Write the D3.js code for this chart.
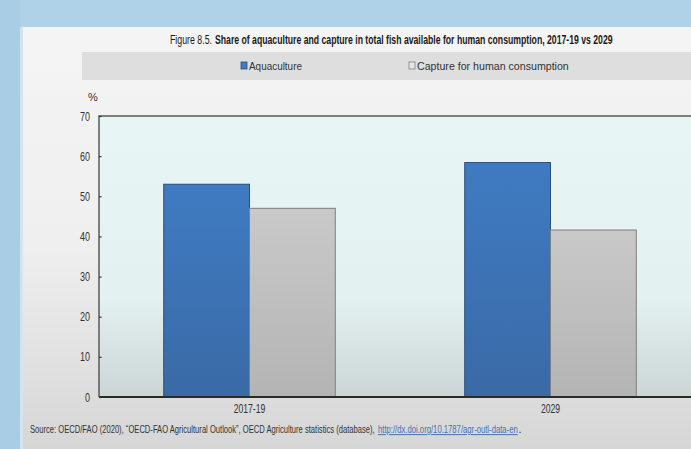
<!DOCTYPE html>
<html>
<head>
<meta charset="utf-8">
<script src="https://cdn.jsdelivr.net/npm/d3@7"></script>
<style>
  html, body { margin: 0; padding: 0; background: #f2f2f2; }
  svg { display: block; }
  text { font-family: "Liberation Sans", Arial, sans-serif; }
</style>
</head>
<body>
<div id="chart"></div>
<script>
// Data
const categories = ["2017-19", "2029"];
const seriesNames = ["Aquaculture", "Capture for human consumption"];
const aquaculture = [53, 58.4];
const capture = [47, 41.6];
const yTicks = [0, 10, 20, 30, 40, 50, 60, 70];

const width = 691, height = 449;
const plot = { left: 99, top: 116, right: 701, bottom: 397 };
const FONT = "'Liberation Sans', Arial, sans-serif";
const SQUEEZE = 0.72;

const svg = d3.select("#chart").append("svg")
    .attr("width", width)
    .attr("height", height);

// text squeezed to a given width (the source uses a narrow face)
function fitText(x, y, size, len, str, bold) {
    const t = svg.append("text")
        .attr("font-size", size)
        .attr("font-weight", bold ? "bold" : null)
        .attr("fill", "#333")
        .text(str);
    const sx = len / t.node().getComputedTextLength();
    t.attr("transform", `translate(${x},${y}) scale(${sx},1)`);
    return t;
}

const defs = svg.append("defs");
function vGrad(id, stops) {
    const g = defs.append("linearGradient").attr("id", id)
        .attr("x1", 0).attr("y1", 0).attr("x2", 0).attr("y2", 1);
    stops.forEach(s => g.append("stop").attr("offset", s[0]).attr("stop-color", s[1]));
}
vGrad("pageBg", [[0, "#f5f5f5"], [0.55, "#efefef"], [1, "#d6d6d6"]]);
vGrad("plotBg", [[0, "#e7f6f5"], [0.65, "#e3f1f0"], [1, "#cbd5d5"]]);
vGrad("blueBar", [[0, "#3f7bc2"], [1, "#3a6aa6"]]);
vGrad("greyBar", [[0, "#c9c9c9"], [1, "#b4b4b4"]]);

// page / frame
svg.append("rect").attr("width", width).attr("height", height).attr("fill", "url(#pageBg)");
svg.append("rect").attr("x", 0).attr("y", 0).attr("width", width).attr("height", 27).attr("fill", "#afd2e8");
svg.append("rect").attr("x", 0).attr("y", 0).attr("width", 20).attr("height", height).attr("fill", "#a9cde5");
svg.append("rect").attr("x", 20).attr("y", 27).attr("width", 3).attr("height", height - 27).attr("fill", "#d3e4ee");

// title
fitText(170, 44, 12.5, 42, "Figure 8.5.").attr("fill", "#1a1a1a");
fitText(215, 44, 12.5, 398,
    "Share of aquaculture and capture in total fish available for human consumption, 2017-19 vs 2029", true)
    .attr("fill", "#1a1a1a");

// legend band
svg.append("rect").attr("x", 82).attr("y", 52).attr("width", width - 82).attr("height", 28).attr("fill", "#dedede");

const colors = ["url(#blueBar)", "url(#greyBar)"];
const strokes = ["#2c4f7c", "#7f7f7f"];
const legendX = [241, 409];
const legendLen = [53, 152];
seriesNames.forEach((name, i) => {
    svg.append("rect")
        .attr("x", legendX[i]).attr("y", 62)
        .attr("width", 6).attr("height", 7)
        .attr("fill", i === 0 ? "#3f7bc2" : "#e6e6e6")
        .attr("stroke", i === 0 ? "#2c4f7c" : "#808080")
        .attr("stroke-width", 0.8);
    fitText(legendX[i] + 8, 70, 11.5, legendLen[i], name);
});

// scales
const x0 = d3.scaleBand()
    .domain(categories)
    .range([plot.left, plot.right])
    .paddingInner(0.43)
    .paddingOuter(0.215);
const x1 = d3.scaleBand()
    .domain(seriesNames)
    .range([0, x0.bandwidth()]);
const y = d3.scaleLinear()
    .domain([0, 70])
    .range([plot.bottom, plot.top]);

// plot background
svg.append("rect")
    .attr("x", plot.left).attr("y", plot.top)
    .attr("width", plot.right - plot.left).attr("height", plot.bottom - plot.top)
    .attr("fill", "url(#plotBg)");

// bars
const values = [aquaculture, capture];
const barG = svg.append("g");
categories.forEach((cat, ci) => {
    seriesNames.forEach((s, si) => {
        const v = values[si][ci];
        barG.append("rect")
            .attr("x", x0(cat) + x1(s))
            .attr("y", y(v))
            .attr("width", x1.bandwidth())
            .attr("height", y(0) - y(v))
            .attr("fill", colors[si])
            .attr("stroke", strokes[si])
            .attr("stroke-width", 1);
    });
});

// plot frame
svg.append("path")
    .attr("d", `M${plot.left},${plot.bottom}V${plot.top}H${plot.right}`)
    .attr("fill", "none")
    .attr("stroke", "#5a5a5a")
    .attr("stroke-width", 1.5);
svg.append("line")
    .attr("x1", plot.left).attr("x2", plot.right)
    .attr("y1", plot.bottom).attr("y2", plot.bottom)
    .attr("stroke", "#2a2a2a").attr("stroke-width", 2);

// y axis
const yAxis = svg.append("g")
    .attr("transform", `translate(${plot.left},0)`)
    .call(d3.axisLeft(y).tickValues(yTicks).tickSize(-2.5).tickPadding(9));
yAxis.select(".domain").remove();
yAxis.selectAll(".tick line").attr("stroke", "#333").attr("stroke-width", 1.2);
yAxis.selectAll(".tick text")
    .attr("font-size", 12.5)
    .attr("fill", "#333")
    .attr("font-family", FONT)
    .attr("x", -9 / SQUEEZE)
    .attr("transform", `scale(${SQUEEZE},1)`);

svg.append("text")
    .attr("x", 93).attr("y", 101)
    .attr("text-anchor", "middle")
    .attr("font-size", 11)
    .attr("fill", "#333")
    .text("%");

// x axis
const xAxis = svg.append("g")
    .attr("transform", `translate(0,${plot.bottom})`)
    .call(d3.axisBottom(x0).tickSize(0).tickPadding(7));
xAxis.select(".domain").remove();
xAxis.selectAll(".tick text")
    .attr("font-size", 12)
    .attr("fill", "#333")
    .attr("font-family", FONT)
    .attr("transform", `scale(${SQUEEZE},1)`);

// source
fitText(30, 433, 10, 345,
    "Source: OECD/FAO (2020), \u201cOECD-FAO Agricultural Outlook\u201d, OECD Agriculture statistics (database),");
fitText(378, 433, 10, 140, "http://dx.doi.org/10.1787/agr-outl-data-en")
    .attr("fill", "#4a6fb5")
    .attr("text-decoration", "underline");
fitText(518.5, 433, 10, 3, ".");
</script>
</body>
</html>
